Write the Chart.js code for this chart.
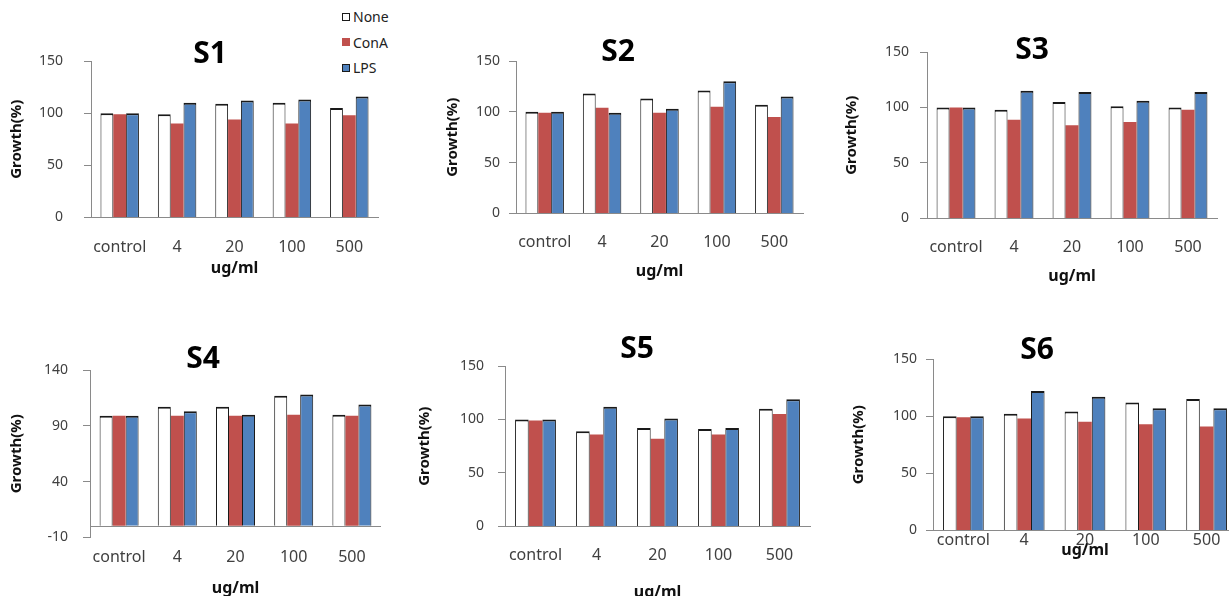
<!DOCTYPE html>
<html>
<head>
<meta charset="utf-8">
<title>Growth (%) by dose — S1 to S6</title>
<script src="https://cdn.jsdelivr.net/npm/chart.js@4.4.1/dist/chart.umd.min.js"></script>
<style>
  html, body { margin: 0; padding: 0; background: #fff; overflow: hidden; }
  #page { position: relative; width: 1229px; height: 596px; overflow: hidden; background: #fff; }
  #page canvas { position: absolute; }
  .panel-title {
    position: absolute; transform: translate(-50%, -50%);
    font: bold 30px "Noto Sans", sans-serif; color: #000; white-space: nowrap; line-height: 1;
  }
  #legend { position: absolute; left: 342px; top: 4px; font: 14px "Noto Sans", sans-serif; color: #222; }
  .lg-row { display: flex; align-items: center; height: 25.5px; }
  .lg-box { width: 8px; height: 8px; margin-right: 3px; box-sizing: border-box; }
</style>
</head>
<body>
<div id="page">
  <div id="legend"></div>
</div>
<script>
// ---- data -------------------------------------------------------------
const categories = ['control', '4', '20', '100', '500'];
const seriesNames = ['None', 'ConA', 'LPS'];
const seriesColors = ['#FFFFFF', '#C0504D', '#4F81BD'];
const seriesBorders = ['#1a1a1a', '#C0504D', '#1a1a1a'];
const xTitle = 'ug/ml';
const yTitle = 'Growth(%)';

const s1None = [100, 99, 109, 110, 105];
const s1ConA = [99, 90, 94, 90, 98];
const s1LPS  = [100, 110, 112, 113, 116];

const s2None = [100, 118, 113, 121, 107];
const s2ConA = [99, 104, 99, 105, 95];
const s2LPS  = [100, 99, 103, 130, 115];

const s3None = [100, 98, 105, 101, 100];
const s3ConA = [100, 89, 84, 87, 98];
const s3LPS  = [100, 115, 114, 106, 114];

const s4None = [99, 107, 107, 117, 100];
const s4ConA = [99, 99, 99, 100, 99];
const s4LPS  = [99, 103, 100, 118, 109];

const s5None = [100, 89, 92, 91, 110];
const s5ConA = [99, 86, 82, 86, 105];
const s5LPS  = [100, 112, 101, 92, 119];

const s6None = [100, 102, 104, 112, 115];
const s6ConA = [99, 98, 95, 93, 91];
const s6LPS  = [100, 122, 117, 107, 107];

// y-axis ticks: [min, max, step]
const yTicksStd = [0, 150, 50];
const yTicksS4  = [-10, 140, 50];

// ---- page layout of each panel (plot box, label placement) -----------
const panels = [
  { name: 'S1', values: [s1None, s1ConA, s1LPS], ticks: yTicksStd,
    box: { left: 91,  top: 61,  right: 378,  bottom: 217, yTitleX: 17,  yTickGap: 28, xTickY: 247, xTitleY: 268 },
    titleAt: [210, 52] },
  { name: 'S2', values: [s2None, s2ConA, s2LPS], ticks: yTicksStd,
    box: { left: 516, top: 61,  right: 803,  bottom: 213, yTitleX: 453, yTickGap: 16, xTickY: 242, xTitleY: 271 },
    titleAt: [618, 50] },
  { name: 'S3', values: [s3None, s3ConA, s3LPS], ticks: yTicksStd,
    box: { left: 927, top: 52,  right: 1217, bottom: 218, yTitleX: 852, yTickGap: 18, xTickY: 247, xTitleY: 276 },
    titleAt: [1032, 48] },
  { name: 'S4', values: [s4None, s4ConA, s4LPS], ticks: yTicksS4,
    box: { left: 90,  top: 370, right: 381,  bottom: 537, yTitleX: 17,  yTickGap: 22, xTickY: 557, xTitleY: 588 },
    titleAt: [203, 357] },
  { name: 'S5', values: [s5None, s5ConA, s5LPS], ticks: yTicksStd,
    box: { left: 505, top: 366, right: 810,  bottom: 526, yTitleX: 425, yTickGap: 21, xTickY: 555, xTitleY: 592 },
    titleAt: [637, 347] },
  { name: 'S6', values: [s6None, s6ConA, s6LPS], ticks: yTicksStd,
    box: { left: 933, top: 359, right: 1237, bottom: 530, yTitleX: 859, yTickGap: 16, xTickY: 539, xTitleY: 550 },
    titleAt: [1037, 348] }
];

// ---- drawing ------------------------------------------------------------
Chart.defaults.font.family = '"Noto Sans", sans-serif';
const AXIS_COLOR = '#8a8a8a';
const TICK_COLOR = '#404040';
const CLEAR = 'rgba(0,0,0,0)';
const TOP_PAD = 36, RIGHT_PAD = 12, TICK_LEN = 7;
const Y_TITLE_SIZE = 15, X_TITLE_SIZE = 16, X_TICK_SIZE = 16, Y_TICK_SIZE = 14;

const page = document.getElementById('page');

function buildPanel(p) {
  const b = p.box;
  const [min, max, step] = p.ticks;
  // when the value axis dips below zero, the category axis line is drawn on the zero line
  const zeroLine = min < 0;
  const isZero = (ctx) => !!(ctx.tick && ctx.tick.value === 0);
  const yTitleOffset = 4 + Y_TITLE_SIZE * 1.2 / 2;
  const xTitleOffset = 4 + X_TITLE_SIZE * 1.2 / 2;
  const canvasLeft = b.yTitleX - yTitleOffset;
  const canvasTop = b.top - TOP_PAD;
  const canvasBottom = b.xTitleY + xTitleOffset;
  const xHeight = canvasBottom - b.bottom;
  const canvasRight = b.right + RIGHT_PAD;

  const canvas = document.createElement('canvas');
  canvas.width = Math.round(canvasRight - canvasLeft);
  canvas.height = Math.round(canvasBottom - canvasTop);
  canvas.style.left = canvasLeft + 'px';
  canvas.style.top = canvasTop + 'px';
  canvas.style.width = canvas.width + 'px';
  canvas.style.height = canvas.height + 'px';
  page.appendChild(canvas);

  new Chart(canvas, {
    type: 'bar',
    data: {
      labels: categories,
      datasets: seriesNames.map((name, i) => ({
        label: name,
        data: p.values[i],
        backgroundColor: seriesColors[i],
        borderColor: seriesBorders[i],
        // outlined bars carry a heavier top edge (small error cap)
        borderWidth: i === 1 ? 0 : { top: 2, left: 1, right: 1, bottom: 0 },
        categoryPercentage: 0.67,
        barPercentage: 1.0
      }))
    },
    options: {
      responsive: false,
      animation: false,
      devicePixelRatio: 1,
      layout: { padding: { top: TOP_PAD, right: RIGHT_PAD, left: 0, bottom: 0 } },
      plugins: { legend: { display: false }, title: { display: false }, tooltip: { enabled: false } },
      scales: {
        x: {
          position: 'bottom',
          grid: { display: false, drawTicks: false },
          border: { display: !zeroLine, color: AXIS_COLOR, width: 1 },
          ticks: {
            color: TICK_COLOR,
            font: { size: X_TICK_SIZE },
            padding: Math.max(0, b.xTickY - X_TICK_SIZE * 1.2 / 2 - b.bottom),
            maxRotation: 0, autoSkip: false
          },
          title: {
            display: true, text: xTitle, color: '#111',
            font: { size: X_TITLE_SIZE, weight: 'bold' },
            padding: { top: 4, bottom: 4 }
          },
          afterFit: (s) => { s.height = xHeight; }
        },
        y: {
          min: min, max: max,
          afterBuildTicks: (s) => {
            if (zeroLine && !s.ticks.some(t => t.value === 0)) {
              s.ticks.push({ value: 0 });
              s.ticks.sort((a, c) => a.value - c.value);
            }
          },
          ticks: {
            stepSize: step,
            color: (ctx) => isZero(ctx) && zeroLine ? CLEAR : TICK_COLOR,
            font: { size: Y_TICK_SIZE },
            padding: b.yTickGap - TICK_LEN
          },
          grid: {
            display: true,
            drawOnChartArea: zeroLine,
            drawTicks: true,
            tickLength: TICK_LEN,
            color: (ctx) => zeroLine ? (isZero(ctx) ? AXIS_COLOR : CLEAR) : AXIS_COLOR,
            tickColor: (ctx) => zeroLine && isZero(ctx) ? CLEAR : AXIS_COLOR
          },
          border: { display: true, color: AXIS_COLOR, width: 1 },
          title: {
            display: true, text: yTitle, color: '#111',
            font: { size: Y_TITLE_SIZE, weight: 'bold' },
            padding: { top: 4, bottom: 4 }
          },
          afterFit: (s) => { s.width = b.left - canvasLeft; }
        }
      }
    }
  });

  const t = document.createElement('div');
  t.className = 'panel-title';
  t.textContent = p.name;
  t.style.left = p.titleAt[0] + 'px';
  t.style.top = p.titleAt[1] + 'px';
  page.appendChild(t);
}

panels.forEach(buildPanel);

// shared legend
const legend = document.getElementById('legend');
seriesNames.forEach((name, i) => {
  const row = document.createElement('div');
  row.className = 'lg-row';
  const sw = document.createElement('span');
  sw.className = 'lg-box';
  sw.style.background = seriesColors[i];
  sw.style.border = '1px solid ' + (i === 1 ? seriesColors[i] : '#1a1a1a');
  row.appendChild(sw);
  row.appendChild(document.createTextNode(name));
  legend.appendChild(row);
});
</script>
</body>
</html>
